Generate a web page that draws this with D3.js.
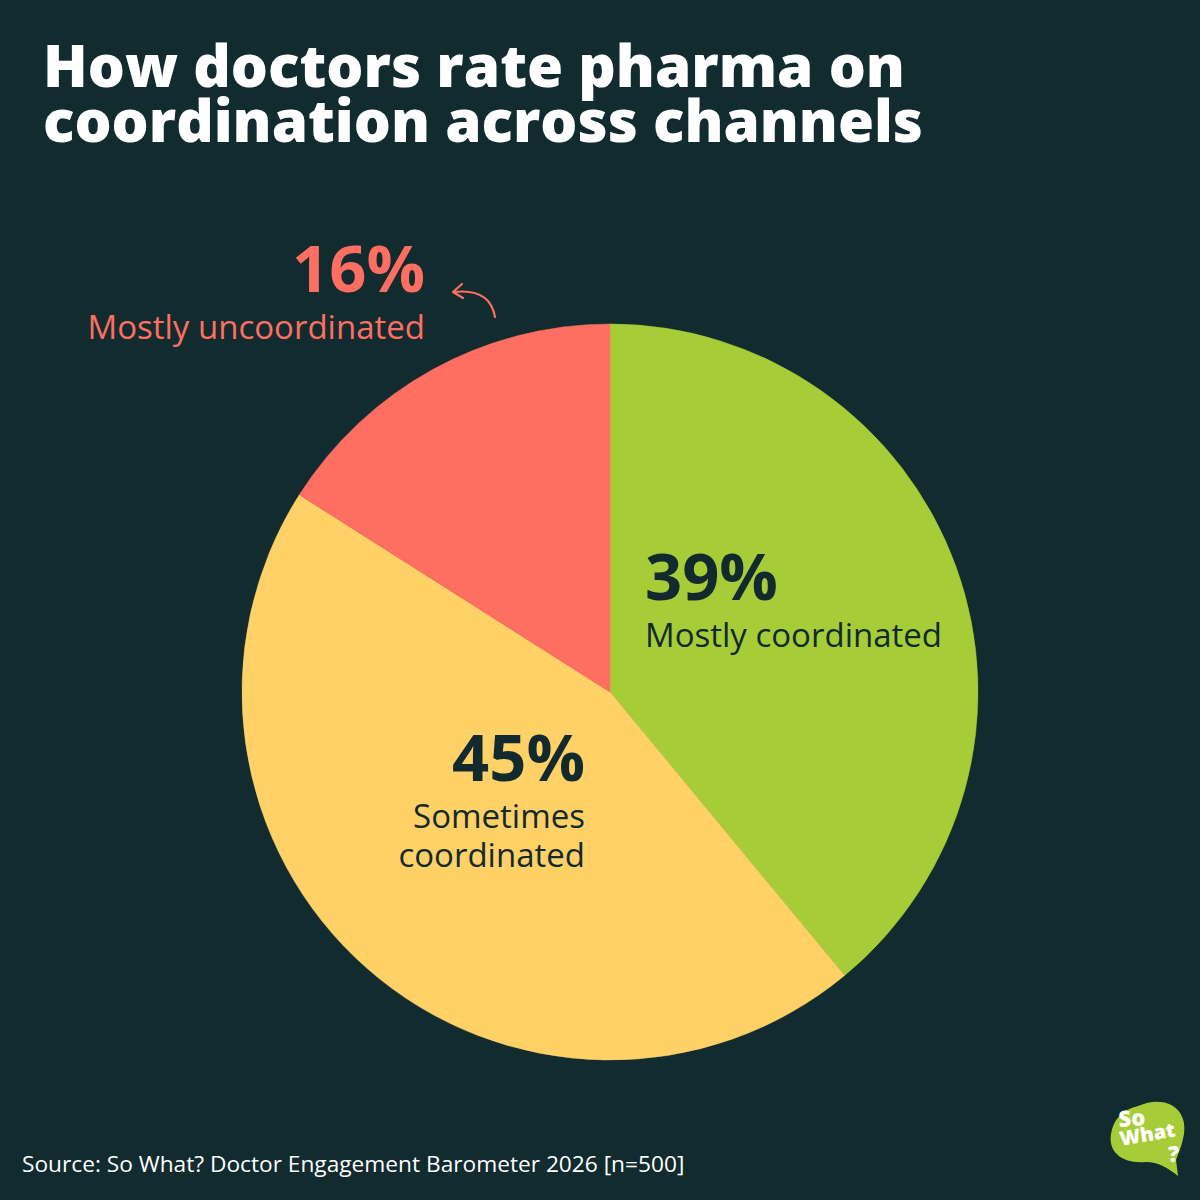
<!DOCTYPE html>
<html>
<head>
<meta charset="utf-8">
<script src="https://d3js.org/d3.v7.min.js"></script>
<style>
  body { margin: 0; background: #112b2f; }
  svg { display: block; }
</style>
</head>
<body>
<svg id="chart" width="1200" height="1200"></svg>
<script>
// data
var categories = ["Mostly coordinated", "Sometimes coordinated", "Mostly uncoordinated"];
var values = [39, 45, 16];
var sliceColors = ["#a6cd38", "#ffd166", "#ff6f61"];
var titleLines = ["How doctors rate pharma on", "coordination across channels"];
var source = "Source: So What? Doctor Engagement Barometer 2026 [n=500]";

var W = 1200, H = 1200;
var bg = "#112b2f", dark = "#12292e";
var cx = 610, cy = 692, R = 368;

var svg = d3.select("#chart");
svg.append("rect").attr("width", W).attr("height", H).attr("fill", bg);

// title, one text with a tspan per line
var title = svg.append("text")
  .attr("fill", "#ffffff")
  .attr("font-family", "'Open Sans', sans-serif")
  .attr("font-weight", 800)
  .attr("font-size", 58);
title.selectAll("tspan")
  .data(titleLines)
  .enter().append("tspan")
  .attr("x", 43)
  .attr("y", (d, i) => 87 + i * 55)
  .attr("textLength", (d, i) => i === 0 ? 862 : 880)
  .attr("lengthAdjust", "spacingAndGlyphs")
  .text(d => d);

// pie
var pie = d3.pie().sort(null).value(d => d.v);
var arc = d3.arc().innerRadius(0).outerRadius(R);
var slices = pie(values.map((v, i) => ({ v: v, name: categories[i], color: sliceColors[i] })));

var g = svg.append("g").attr("transform", "translate(" + cx + "," + cy + ")");
g.selectAll("path")
  .data(slices)
  .enter().append("path")
  .attr("d", arc)
  .attr("fill", d => d.data.color)
  .attr("stroke", d => d.data.color)
  .attr("stroke-width", 0.5);

// labels (placement chosen by hand, text from data)
var labelSpots = [
  { x: 645, y: 600, anchor: "start", color: dark, lines: ["Mostly coordinated"] },
  { x: 585, y: 781, anchor: "end", color: dark, lines: ["Sometimes", "coordinated"] },
  { x: 425, y: 292, anchor: "end", color: sliceColors[2], lines: ["Mostly uncoordinated"] }
];

labelSpots.forEach(function (s, i) {
  var t = svg.append("g");
  t.append("text")
    .attr("x", s.x).attr("y", s.y)
    .attr("text-anchor", s.anchor)
    .attr("fill", s.color)
    .attr("font-family", "'Open Sans', sans-serif")
    .attr("font-weight", 700)
    .attr("font-size", 65)
    .text(values[i] + "%");
  var sub = t.append("text")
    .attr("text-anchor", s.anchor)
    .attr("fill", s.color)
    .attr("font-family", "'Open Sans', sans-serif")
    .attr("font-size", 33);
  s.lines.forEach(function (line, j) {
    sub.append("tspan")
      .attr("x", s.x).attr("y", s.y + 47 + j * 39)
      .text(line);
  });
});

// little curved arrow pointing at the red label
svg.append("path")
  .attr("d", "M495,317 Q490,288 454,292")
  .attr("fill", "none")
  .attr("stroke", sliceColors[2])
  .attr("stroke-width", 2.2)
  .attr("stroke-linecap", "round");
svg.append("path")
  .attr("d", "M462,284 L453,292 L463,298")
  .attr("fill", "none")
  .attr("stroke", sliceColors[2])
  .attr("stroke-width", 2.2)
  .attr("stroke-linecap", "round")
  .attr("stroke-linejoin", "round");

// source
svg.append("text")
  .attr("x", 22).attr("y", 1172)
  .attr("fill", "#ffffff")
  .attr("font-family", "'Open Sans', sans-serif")
  .attr("font-size", 22.7)
  .text(source);

// logo bubble
var logo = svg.append("g").attr("transform", "translate(1110,1100)");
logo.append("path")
  .attr("d", "M28,6 C55,-6 78,8 74,34 C72,46 68,54 66,60 L68,76 C58,68 48,62 36,62 C12,64 -2,52 1,34 C3,20 12,10 28,6 Z")
  .attr("fill", "#a6cd38");
logo.append("text")
  .attr("x", 9).attr("y", 27)
  .attr("fill", "#fff")
  .attr("font-family", "'Open Sans', sans-serif")
  .attr("font-weight", 800)
  .attr("font-size", 22)
  .attr("transform", "rotate(-4,9,27)")
  .text("So");
logo.append("text")
  .attr("x", 11).attr("y", 46)
  .attr("fill", "#fff")
  .attr("font-family", "'Open Sans', sans-serif")
  .attr("font-weight", 800)
  .attr("font-size", 20)
  .attr("textLength", 56)
  .attr("lengthAdjust", "spacingAndGlyphs")
  .attr("transform", "rotate(-10,11,46)")
  .text("What");
logo.append("text")
  .attr("x", 58).attr("y", 62)
  .attr("fill", "#fff")
  .attr("font-family", "'Open Sans', sans-serif")
  .attr("font-weight", 800)
  .attr("font-size", 22)
  .text("?");
</script>
</body>
</html>
